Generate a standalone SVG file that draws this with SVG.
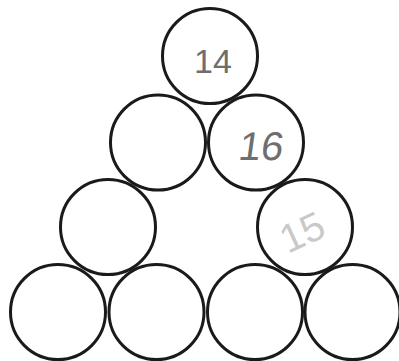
<svg xmlns="http://www.w3.org/2000/svg" width="399" height="361" viewBox="0 0 399 361">
<style>
.c{fill:#fff;stroke:#1a1a1a;stroke-width:3}
.t{font-family:"Liberation Sans",Arial,sans-serif;fill:#6e6e6e;text-anchor:middle}
</style>
<rect width="399" height="361" fill="#fff"/>
<g id="row4">
<g id="n41"><circle class="c" cx="58" cy="312" r="47.5"/></g>
<g id="n42"><circle class="c" cx="156.5" cy="312" r="47.5"/></g>
<g id="n43"><circle class="c" cx="255" cy="312" r="47.5"/></g>
<g id="n44"><circle class="c" cx="352.5" cy="312" r="47.5"/></g>
</g>
<g id="row3">
<g id="n31"><circle class="c" cx="108" cy="227" r="47.5"/></g>
<g id="n32"><circle class="c" cx="305" cy="227" r="47.5"/>
<text class="t" x="302" y="246" font-size="40" fill-opacity="0.55" style="fill:#9a9a9a" transform="rotate(-25 302 232)">15</text></g>
</g>
<g id="row2">
<g id="n21"><circle class="c" cx="158" cy="142.5" r="47.5"/></g>
<g id="n22"><circle class="c" cx="256" cy="142.5" r="47.5"/>
<text class="t" x="262" y="160" font-size="40" transform="skewX(-8) translate(20 0)">16</text></g>
</g>
<g id="row1">
<g id="n11"><circle class="c" cx="210" cy="56" r="47.5"/>
<text class="t" x="213" y="73" font-size="34">14</text></g>
</g>
</svg>
